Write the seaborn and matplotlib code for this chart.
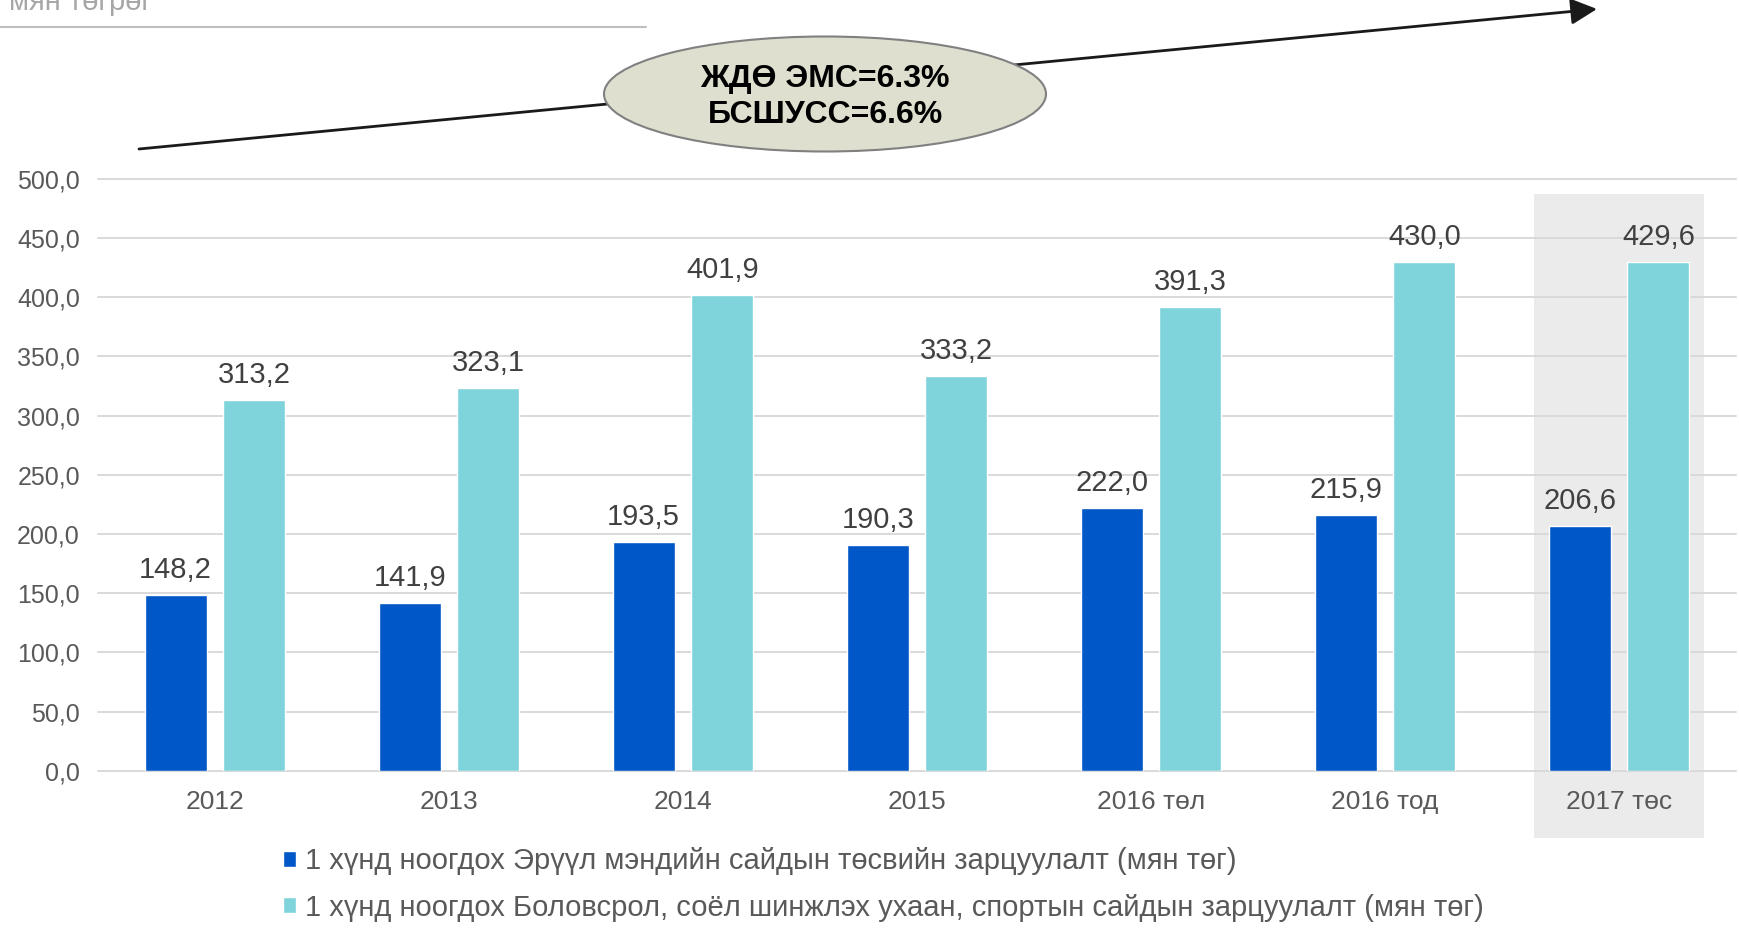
import matplotlib
matplotlib.use('Agg')
import matplotlib.pyplot as plt
import matplotlib.transforms as mtransforms
import seaborn as sns
import pandas as pd
from matplotlib.patches import Ellipse, FancyArrowPatch, Rectangle
from matplotlib.lines import Line2D
from matplotlib.ticker import FuncFormatter

# ---------------- data ----------------
categories = ['2012', '2013', '2014', '2015', '2016 төл', '2016 тод', '2017 төс']
health = [148.2, 141.9, 193.5, 190.3, 222.0, 215.9, 206.6]
education = [313.2, 323.1, 401.9, 333.2, 391.3, 430.0, 429.6]
series_names = [
    '1 хүнд ноогдох Эрүүл мэндийн сайдын төсвийн зарцуулалт (мян төг)',
    '1 хүнд ноогдох Боловсрол, соёл шинжлэх ухаан, спортын сайдын зарцуулалт (мян төг)',
]
yticks = [0, 50, 100, 150, 200, 250, 300, 350, 400, 450, 500]
highlight_category = '2017 төс'
growth_text = ['ЖДӨ ЭМС=6.3%', 'БСШУСС=6.6%']
unit_label = 'мян төгрөг'

colors = ['#0057C8', '#7FD4DB']

# ---------------- style ----------------
sns.set_theme(style='white')
plt.rcParams['font.family'] = ['Liberation Sans', 'DejaVu Sans']

W, H = 1739, 930
fig = plt.figure(figsize=(W / 100, H / 100), dpi=100)
ax_left, ax_right, ax_top, ax_bottom = 98, 1736, 178.8, 770.7
ax = fig.add_axes([ax_left / W, 1 - ax_bottom / H, (ax_right - ax_left) / W, (ax_bottom - ax_top) / H])
ax.patch.set_alpha(0)

df = pd.DataFrame({
    'category': categories * 2,
    'series': [series_names[0]] * len(categories) + [series_names[1]] * len(categories),
    'value': health + education,
})

sns.barplot(data=df, x='category', y='value', hue='series', palette=colors,
            width=0.673, gap=0.212, saturation=1, ax=ax, zorder=2, errorbar=None)

ax.set_xlim(-0.5, len(categories) - 0.5)
ax.set_ylim(0, 500)
ax.set_yticks(yticks)
ax.yaxis.set_major_formatter(FuncFormatter(lambda v, p: f'{v:.1f}'.replace('.', ',')))
ax.set_xlabel('')
ax.set_ylabel('')
for s in ax.spines.values():
    s.set_visible(False)
ax.set_axisbelow(True)
ax.yaxis.grid(True, color='#D9D9D9', lw=1.4)
ax.xaxis.grid(False)
ax.tick_params(axis='y', length=0, labelsize=18, labelcolor='#595959', pad=13)
ax.tick_params(axis='x', length=0, labelsize=19, labelcolor='#595959', pad=14)

# extend the gridlines to the right figure edge like the reference
for gl in ax.get_ygridlines():
    gl.set_clip_on(False)

# highlight band for the forecast category
idx = categories.index(highlight_category)
blend = mtransforms.blended_transform_factory(ax.transData, ax.transAxes)
ax.add_patch(Rectangle((idx - 0.365, -0.1137), 0.73, 0.9743 + 0.1137, transform=blend,
                       facecolor='#EBEBEB', edgecolor='none', clip_on=False, zorder=0))

# value labels
for cont in ax.containers:
    vals = cont.datavalues
    ax.bar_label(cont, labels=[f'{v:.1f}'.replace('.', ',') for v in vals],
                 padding=8, fontsize=21, color='#404040')

# legend
handles, labels = ax.get_legend_handles_labels()
if ax.get_legend() is not None:
    ax.get_legend().remove()
fig.legend(handles, labels, loc='center left', bbox_to_anchor=(283 / W, 1 - 884.5 / H),
           frameon=False, fontsize=21, labelcolor='#595959', handlelength=0.45,
           handleheight=0.45, handletextpad=0.3, labelspacing=0.62, borderpad=0,
           borderaxespad=0)

# trend arrow
fig.add_artist(FancyArrowPatch((139 / W, 1 - 149 / H), (1597 / W, 1 - 9 / H),
                               transform=fig.transFigure,
                               arrowstyle='-|>,head_length=0.8,head_width=0.4',
                               mutation_scale=20, color='#1A1A1A', lw=2,
                               shrinkA=0, shrinkB=0, zorder=4))

# ellipse with growth rates
fig.add_artist(Ellipse((825 / W, 1 - 94 / H), 442 / W, 115 / H, transform=fig.transFigure,
                       facecolor='#DEDFCF', edgecolor='#808080', lw=1.5, zorder=5))
fig.text(825 / W, 1 - 97 / H, '\n'.join(growth_text), ha='center', va='center',
         fontsize=23, fontweight='bold', color='black', linespacing=1.3, zorder=6)

# cut-off unit label and rule at top-left
fig.text(9 / W, 1 - 10 / H, unit_label, fontsize=21, color='#A6A6A6', va='baseline')
fig.add_artist(Line2D([0, 646 / W], [1 - 27 / H] * 2, transform=fig.transFigure,
                      color='#BFBFBF', lw=1.5))

fig.savefig('out.png', dpi=100)
